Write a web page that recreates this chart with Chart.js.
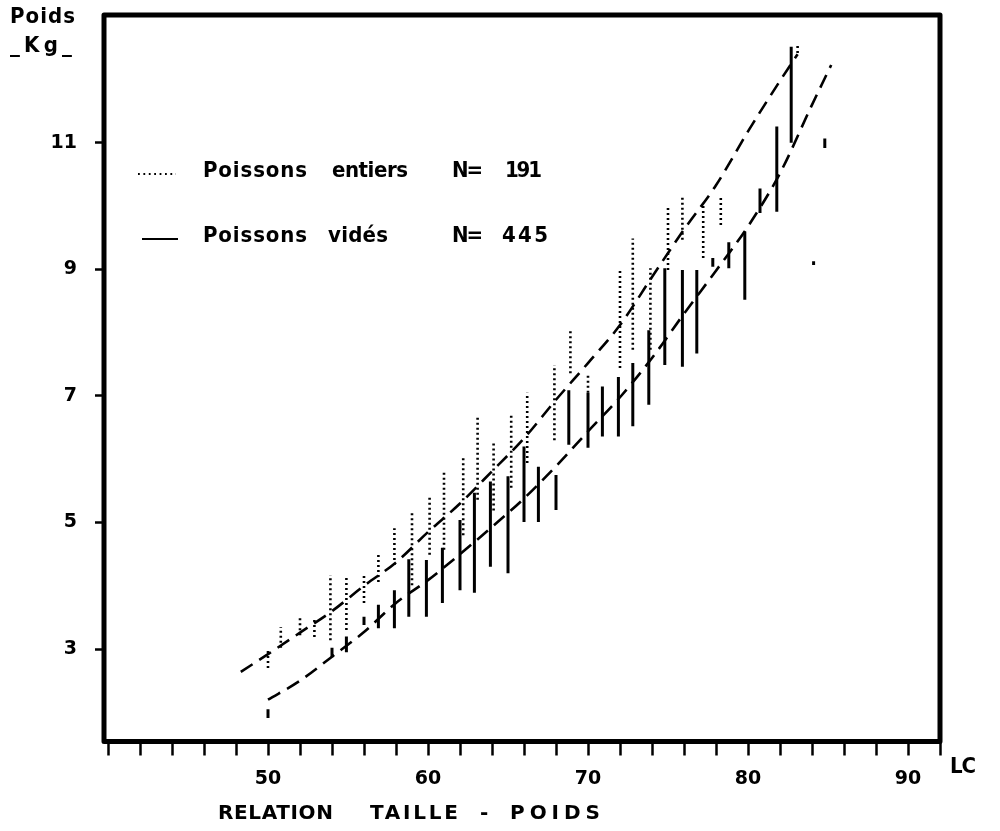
<!DOCTYPE html>
<html><head><meta charset="utf-8">
<script src="https://cdn.jsdelivr.net/npm/chart.js@4.4.1/dist/chart.umd.min.js"></script>
<style>
html,body{margin:0;padding:0;background:#fff;}
#wrap{position:relative;width:1000px;height:831px;overflow:hidden;background:#fff;}
#c{position:absolute;left:0;top:0;}
.t{position:absolute;font-family:'Liberation Sans Narrow','DejaVu Sans Condensed','Arial Narrow',sans-serif;font-weight:bold;color:#000;white-space:nowrap;line-height:1;font-size:22px;}
.w{font-family:'DejaVu Sans',sans-serif;font-size:20px;}
svg{position:absolute;left:0;top:0;}
</style></head><body>
<div id="wrap">
<canvas id="c" width="1000" height="831"></canvas>
<svg width="1000" height="831">
  <line x1="138" y1="174" x2="176" y2="174" stroke="#000" stroke-width="1.8" stroke-dasharray="1.8,3.6"/>
  <line x1="142" y1="239" x2="178" y2="239" stroke="#000" stroke-width="2.2"/>
</svg>
<div class="t" style="left:10px;top:5px" data-w="65">Poids</div>
<div class="t" style="left:10px;top:34px" data-w="62">_Kg_</div>
<div class="t" style="left:203px;top:159px" data-w="104">Poissons</div>
<div class="t" style="left:332px;top:159px" data-w="76">entiers</div>
<div class="t" style="left:452px;top:159px" data-w="31">N=</div>
<div class="t" style="left:505px;top:159px" data-w="37">191</div>
<div class="t" style="left:203px;top:224px" data-w="104">Poissons</div>
<div class="t" style="left:328px;top:224px" data-w="60">vidés</div>
<div class="t" style="left:452px;top:224px" data-w="31">N=</div>
<div class="t" style="left:502px;top:224px" data-w="46">445</div>
<div class="t" style="left:950px;top:755px" data-w="26">LC</div>
<div class="t w" style="left:218px;top:802px" data-w="115">RELATION</div>
<div class="t w" style="left:370px;top:802px" data-w="88">TAILLE</div>
<div class="t w" style="left:480px;top:802px">-</div>
<div class="t w" style="left:510px;top:802px" data-w="90">POIDS</div>
</div>
<script>
// ---- Data (LC in cm, weight in kg) ----
// Poissons entiers (dotted ranges)
const entiersL   = [50, 50.8, 52, 52.9, 53.9, 54.9, 56, 56.9, 57.9, 59, 60.1, 61, 62.2, 63.1, 64.1, 65.2, 66.2, 67.9, 68.9, 70, 72, 72.8, 73.9, 75, 75.9, 77.2, 78.3, 83.1];
const entiersMin = [2.70, 3.02, 3.22, 3.19, 3.14, 3.30, 3.73, 4.06, 4.33, 4.01, 4.49, 4.57, 4.80, 5.36, 5.19, 5.55, 5.94, 6.30, 7.36, 7.05, 7.44, 7.73, 7.73, 8.99, 9.47, 9.18, 9.70, 12.42];
const entiersMax = [3.00, 3.35, 3.49, 3.46, 4.17, 4.17, 4.20, 4.49, 4.91, 5.17, 5.43, 5.80, 6.02, 6.67, 6.28, 6.73, 7.05, 7.49, 8.05, 7.36, 8.99, 9.49, 9.02, 9.99, 10.15, 10.05, 10.13, 12.55];
// Poissons vidés (solid ranges)
const videsL   = [50, 54, 54.9, 56, 56.9, 57.9, 58.8, 59.9, 60.9, 62, 62.9, 63.9, 65, 66, 66.9, 68, 68.8, 70, 70.9, 71.9, 72.8, 73.8, 74.8, 75.9, 76.8, 77.8, 78.8, 79.8, 80.75, 81.8, 82.7, 84.1, 84.8];
const videsMin = [1.91, 2.87, 2.95, 3.38, 3.33, 3.33, 3.51, 3.51, 3.73, 3.93, 3.89, 4.30, 4.20, 5.01, 5.01, 5.20, 6.23, 6.18, 6.36, 6.36, 6.52, 6.86, 7.49, 7.46, 7.67, 9.04, 9.02, 8.52, 9.89, 9.91, 11.00, 9.07, 10.92];
const videsMax = [2.05, 3.02, 3.20, 3.51, 3.70, 3.93, 4.42, 4.41, 4.60, 5.04, 5.47, 5.65, 5.73, 6.20, 5.88, 5.75, 7.09, 7.05, 7.15, 7.30, 7.52, 8.04, 9.02, 8.99, 8.99, 9.18, 9.43, 9.60, 10.28, 11.26, 12.52, 9.13, 11.07];
// Dashed size-weight curves
const courbeEntiersL = [48.3, 50, 52, 54, 56, 58, 60, 62, 64, 66, 68, 70, 72, 74, 76, 78, 80, 82, 83.1];
const courbeEntiersW = [2.64, 2.92, 3.26, 3.60, 4.00, 4.37, 4.85, 5.30, 5.81, 6.33, 6.94, 7.52, 8.12, 8.88, 9.63, 10.33, 11.18, 11.98, 12.40];
const courbeVidesL = [50, 52, 54, 56, 58, 60, 62, 64, 66, 68, 70, 72, 74, 76, 78, 80, 82, 84, 85.2];
const courbeVidesW = [2.20, 2.50, 2.88, 3.27, 3.73, 4.09, 4.50, 4.93, 5.38, 5.89, 6.44, 6.98, 7.60, 8.30, 8.98, 9.68, 10.52, 11.60, 12.23];
// Axis ticks
const xTickValues = [40, 42, 44, 46, 48, 50, 52, 54, 56, 58, 60, 62, 64, 66, 68, 70, 72, 74, 76, 78, 80, 82, 84, 86, 88, 90, 92];
const xTickLabels = [50, 60, 70, 80, 90];
const yTickValues = [3, 5, 7, 9, 11];

function rangePoints(L, lo, hi) {
  const pts = [];
  for (let i = 0; i < L.length; i++) {
    pts.push({x: L[i], y: lo[i]}, {x: L[i], y: hi[i]}, {x: L[i], y: null});
  }
  return pts;
}
function curvePoints(L, W) { return L.map((v, i) => ({x: v, y: W[i]})); }

const framePlugin = {
  id: 'frame',
  afterDatasetsDraw(chart) {
    const a = chart.chartArea, ctx = chart.ctx;
    ctx.save();
    ctx.strokeStyle = '#000';
    ctx.lineWidth = 5;
    ctx.lineJoin = 'round';
    ctx.strokeRect(a.left, a.top, a.right - a.left, a.bottom - a.top);
    ctx.restore();
  }
};

const tickFont = {family: "'DejaVu Sans', sans-serif", weight: 'bold', size: 19};

new Chart(document.getElementById('c'), {
  type: 'line',
  data: {
    datasets: [
      {data: curvePoints(courbeEntiersL, courbeEntiersW), borderColor: '#000', borderWidth: 2.6, borderDash: [14, 8], pointRadius: 0, cubicInterpolationMode: 'monotone'},
      {data: curvePoints(courbeVidesL, courbeVidesW), borderColor: '#000', borderWidth: 2.6, borderDash: [14, 8], pointRadius: 0, cubicInterpolationMode: 'monotone'},
      {data: rangePoints(entiersL, entiersMin, entiersMax), borderColor: '#000', borderWidth: 2.6, borderDash: [2, 3], borderCapStyle: 'butt', pointRadius: 0, spanGaps: false},
      {data: rangePoints(videsL, videsMin, videsMax), borderColor: '#000', borderWidth: 3, pointRadius: 0, spanGaps: false}
    ]
  },
  options: {
    responsive: false,
    animation: false,
    devicePixelRatio: 1,
    layout: {padding: {top: 15, right: 60, bottom: 0, left: 0}},
    plugins: {legend: {display: false}, tooltip: {enabled: false}, title: {display: false}},
    scales: {
      x: {
        type: 'linear', min: 39.75, max: 92,
        border: {display: false},
        grid: {display: true, drawOnChartArea: false, drawTicks: true, tickLength: 14, tickWidth: 2.5, tickColor: '#000'},
        ticks: {color: '#000', font: tickFont, padding: 12, maxRotation: 0, autoSkip: false,
          callback: v => xTickLabels.includes(v) ? String(v) : ''},
        afterBuildTicks: s => { s.ticks = xTickValues.map(v => ({value: v})); },
        afterFit: s => { s.height = 89.5; s.paddingLeft = 0; s.paddingRight = 0; s.paddingTop = 0; s.paddingBottom = 0; }
      },
      y: {
        type: 'linear', min: 1.54, max: 13.02,
        border: {display: false},
        grid: {display: true, drawOnChartArea: false, drawTicks: true, tickLength: 9, tickWidth: 2.5, tickColor: '#000'},
        ticks: {color: '#000', font: tickFont, padding: 18, autoSkip: false, callback: v => String(v)},
        afterBuildTicks: s => { s.ticks = yTickValues.map(v => ({value: v})); },
        afterFit: s => { s.width = 104; s.paddingTop = 0; s.paddingBottom = 0; s.paddingLeft = 0; s.paddingRight = 0; }
      }
    }
  },
  plugins: [framePlugin]
});

// fit text widths to the reference by adjusting letter spacing
document.querySelectorAll('.t[data-w]').forEach(el => {
  const target = parseFloat(el.dataset.w);
  const natural = el.getBoundingClientRect().width;
  const n = el.textContent.length;
  if (n > 1) el.style.letterSpacing = ((target - natural) / (n - 1)).toFixed(2) + 'px';
});
</script>
</body></html>
